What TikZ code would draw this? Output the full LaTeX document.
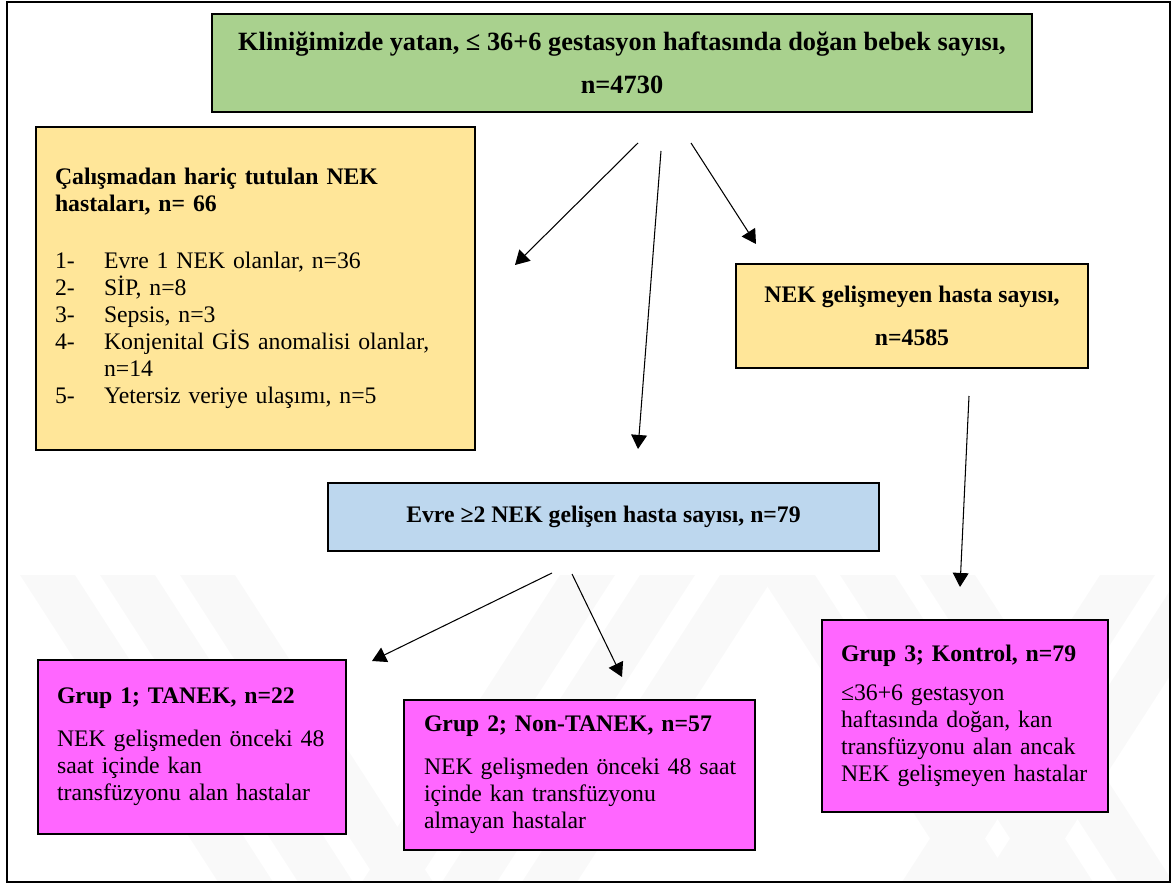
\documentclass[tikz,border=0pt]{standalone}
\usepackage{fontspec}
\setmainfont{Liberation Serif}
\usetikzlibrary{arrows.meta}
\definecolor{boxgreen}{HTML}{A9D18E}
\definecolor{boxyellow}{HTML}{FFE699}
\definecolor{boxblue}{HTML}{BDD7EE}
\definecolor{boxpink}{HTML}{FF66FF}

\begin{document}
\begin{tikzpicture}[x=0.02cm,y=-0.02cm,
    box/.style={draw,line width=1.5pt,inner ysep=0pt,font=\fontsize{13.5}{15.4}\selectfont},
    title/.style={font=\bfseries\fontsize{13.5}{24.5}\selectfont,align=center},
    arr/.style={-{Triangle[length=8pt,width=9pt]},line width=0.6pt}]
    \useasboundingbox (0,0) rectangle (1173,885);
    % faint watermark stripes
    \begin{scope}
        \clip (9,575) rectangle (1169,881);
        \foreach \x in {20,100,180,760,840,920}
            \fill[gray!5] (\x,575) -- ++(55,0) -- ++(200,310) -- ++(-55,0) -- cycle;
        \foreach \x in {560,640,720,1100,1180}
            \fill[gray!5] (\x,575) -- ++(55,0) -- ++(-200,310) -- ++(-55,0) -- cycle;
    \end{scope}
    \draw[line width=1.1pt] (7,2) rectangle (1170,882);

    \node[box,title,fill=boxgreen,minimum width=16.4cm,minimum height=1.96cm,
          font=\bfseries\fontsize{15}{24.5}\selectfont] (total) at (622,63)
        {Kliniğimizde yatan, ≤ 36+6 gestasyon haftasında doğan bebek sayısı,\\ n=4730};
    \node[box,fill=boxyellow,minimum height=6.46cm,inner xsep=0.38cm,text width=8.02cm,align=left] (excl) at (255.5,288.5)
        {\textbf{Çalışmadan hariç tutulan NEK}\\ \textbf{hastaları, n= 66}\\[17pt]
         \makebox[0.98cm][l]{1-}Evre 1 NEK olanlar, n=36\\
         \makebox[0.98cm][l]{2-}SİP, n=8\\
         \makebox[0.98cm][l]{3-}Sepsis, n=3\\
         \makebox[0.98cm][l]{4-}Konjenital GİS anomalisi olanlar,\\
         \hspace*{0.98cm}n=14\\
         \makebox[0.98cm][l]{5-}Yetersiz veriye ulaşımı, n=5};
    \node[box,title,fill=boxyellow,minimum width=7.04cm,minimum height=2.08cm] (nonek) at (912,316)
        {NEK gelişmeyen hasta sayısı,\\ n=4585};
    \node[box,title,fill=boxblue,minimum width=11.02cm,minimum height=1.36cm] (evre) at (603.5,517)
        {Evre ≥2 NEK gelişen hasta sayısı, n=79};

    \node[box,fill=boxpink,minimum height=3.48cm,inner xsep=0.38cm,text width=5.4cm,align=left] (grup1) at (192,747)
        {\textbf{Grup 1; TANEK, n=22}\\[9pt] NEK gelişmeden önceki 48\\ saat içinde kan\\ transfüzyonu alan hastalar};
    \node[box,fill=boxpink,minimum height=3cm,inner xsep=0.4cm,text width=6.22cm,align=left] (grup2) at (579.5,775)
        {\textbf{Grup 2; Non-TANEK, n=57}\\[9pt] \mbox{NEK gelişmeden önceki 48 saat}\\ içinde kan transfüzyonu\\ almayan hastalar};
    \node[box,fill=boxpink,minimum height=3.84cm,inner xsep=0.38cm,text width=4.96cm,align=left] (grup3) at (965,716)
        {\textbf{Grup 3; Kontrol, n=79}\\[7pt] ≤36+6 gestasyon\\ haftasında doğan, kan\\ \mbox{transfüzyonu alan ancak}\\ \mbox{NEK gelişmeyen hastalar}};

    % arrows, both ends float free of the boxes
    \coordinate (exclS) at (638,143);  \coordinate (exclE) at (515,265);
    \coordinate (evreS) at (661,151);  \coordinate (evreE) at (638,449);
    \coordinate (nonekS) at (691,143); \coordinate (nonekE) at (756,244);
    \coordinate (grup3S) at (969,396); \coordinate (grup3E) at (960,587);
    \coordinate (grup1S) at (552,573); \coordinate (grup1E) at (372,661);
    \coordinate (grup2S) at (572,574); \coordinate (grup2E) at (622,677);
    \draw[arr] (exclS) -- (exclE);
    \draw[arr] (evreS) -- (evreE);
    \draw[arr] (nonekS) -- (nonekE);
    \draw[arr] (grup3S) -- (grup3E);
    \draw[arr] (grup1S) -- (grup1E);
    \draw[arr] (grup2S) -- (grup2E);
\end{tikzpicture}
\end{document}
